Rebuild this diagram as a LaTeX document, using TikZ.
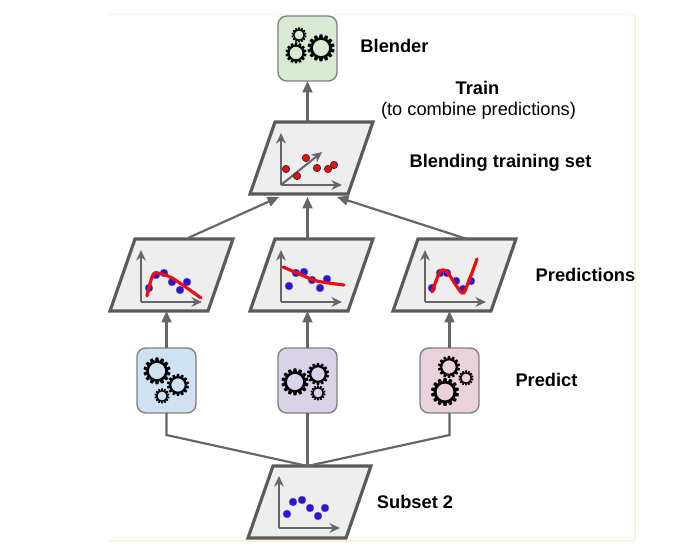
\documentclass[tikz,border=0pt]{standalone}
\usepackage{fontspec}
\setmainfont{Liberation Sans}
\usetikzlibrary{arrows.meta}
\definecolor{linegray}{HTML}{666666}
\definecolor{framegray}{HTML}{5A5A5A}
\definecolor{setgray}{HTML}{EEEEEE}
\definecolor{edgeorange}{HTML}{FDF1DE}
\definecolor{boxgreen}{HTML}{D9EAD3}
\definecolor{boxblue}{HTML}{CFE2F3}
\definecolor{boxpurple}{HTML}{D9D2E9}
\definecolor{boxpink}{HTML}{EAD1DC}
\definecolor{dotblue}{HTML}{2A14E0}
\definecolor{dotred}{HTML}{F00A0A}
\begin{document}
\begin{tikzpicture}[x=0.02cm, y=-0.02cm,
	link/.style={linegray, line width=1.25pt},
	arrow/.style={link, -{Triangle[length=6.5pt, width=5.6pt]}},
	axis/.style={linegray, line width=1.15pt, -{Stealth[length=6pt, width=5.5pt]}},
	dataset/.style={rectangle, xslant=0.347, transform shape, draw=framegray, fill=setgray, line width=1.8pt, minimum width=1.96cm, minimum height=1.44cm, inner sep=0pt, outer sep=0pt},
	gearbox/.style={draw=gray, line width=0.8pt, rounded corners=5pt, minimum width=1.18cm, minimum height=1.3cm, inner sep=0pt, outer sep=0pt},
	label/.style={font=\fontsize{10.4}{12}\selectfont\bfseries, inner sep=0pt},
	fit curve/.style={dotred, line width=1.8pt, line cap=round},
	pics/gear/.style={code={
		\draw[black, line width=0.105pt*#1] (0,0) circle (0.7*#1);
		\foreach \a in {1,...,14}
		\fill[black, rotate=\a*360/14] (-0.15*#1,0.74*#1) -- (-0.1*#1,#1) -- (0.1*#1,#1) -- (0.15*#1,0.74*#1) -- cycle;
	}},
	pics/axes/.style={code={
		\draw[axis] (0,0) -- (0,-52);
		\draw[axis] (0,0) -- (61,0);
	}},
	bluedot/.style={fill=dotblue, draw=gray, line width=0.2pt},
	reddot/.style={fill=dotred, draw=black!80, line width=0.4pt}]
	\useasboundingbox (0,0) rectangle (691,547);
	% page edges
	\draw[edgeorange, line width=0.6pt] (109,14.5) -- (635,14.5) -- (635,541);
	\draw[edgeorange, line width=1.3pt] (109,541) -- (635,541);
	% gear boxes
	\node[gearbox, fill=boxgreen] (blender) at (307.5,48.5) {};
	\node[gearbox, fill=boxblue] (predict1) at (166.5,380.5) {};
	\node[gearbox, fill=boxpurple] (predict2) at (307.5,380.5) {};
	\node[gearbox, fill=boxpink] (predict3) at (449.5,380.5) {};
	% data sets
	\node[dataset] (blend) at (311.5,158) {};
	\node[dataset] (pred1) at (171.5,275) {};
	\node[dataset] (pred2) at (311.5,275) {};
	\node[dataset] (pred3) at (454.5,275) {};
	\node[dataset] (subset) at (309.5,502) {};
	% connectors
	\coordinate (tipleft) at (279,197);
	\coordinate (tipmid) at (307.5,197);
	\coordinate (tipright) at (337,197);
	\coordinate (kneeleft) at (166.5,435);
	\coordinate (kneeright) at (449.5,435);
	\draw[arrow] (blend.north -| blender) -- (blender.south);
	\draw[arrow] (pred1.north) ++(4,-1) -- (tipleft);
	\draw[arrow] (pred2.north -| blender) -- (tipmid);
	\draw[arrow] (pred3.north) -- (tipright);
	\draw[arrow] (predict1.north) -- (predict1.north |- pred1.south);
	\draw[arrow] (predict2.north) -- (predict2.north |- pred2.south);
	\draw[arrow] (predict3.north) -- (predict3.north |- pred3.south);
	\draw[link] (predict1.south) -- (kneeleft) -- (subset.north -| blender);
	\draw[link] (predict2.south) -- (subset.north -| blender);
	\draw[link] (predict3.south) -- (kneeright) -- (subset.north -| blender);
	% gears
	\pic at (299,35) {gear=7.5};
	\pic at (296,53) {gear=10.5};
	\pic at (321,48) {gear=13.5};
	\pic at (157,371) {gear=13.5};
	\pic at (178,385) {gear=11};
	\pic at (162,396) {gear=7.5};
	\pic at (295,382) {gear=13.5};
	\pic at (318,374) {gear=11};
	\pic at (318,393) {gear=7.5};
	\pic at (445,392) {gear=14};
	\pic at (449,367) {gear=11};
	\pic at (466,378) {gear=7.5};
	% plots
	\pic at (281,185) {axes};
	\draw[axis] (281,185) -- (322,152);
	\foreach \x/\y in {286/169, 297/176, 306/158, 317/168, 328/169, 334/165}
	\draw[reddot] (\x,\y) circle (3.7);
	\pic at (141,302) {axes};
	\foreach \x/\y in {149/288, 156/275, 164/273, 172/282, 180/290, 187/282}
	\draw[bluedot] (\x,\y) circle (4);
	\draw[fit curve] plot[smooth] coordinates {(147,296) (152,277) (157,273) (172,278) (201,298)};
	\pic at (281,302) {axes};
	\foreach \x/\y in {289/286, 296/273, 304/272, 312/280, 320/288, 327/279}
	\draw[bluedot] (\x,\y) circle (4);
	\draw[fit curve] plot[smooth] coordinates {(283,267) (297,273) (317,281) (344,285)};
	\pic at (425,302) {axes};
	\foreach \x/\y in {432/288, 440/273, 447/273, 456/281, 463/289, 471/281}
	\draw[bluedot] (\x,\y) circle (4);
	\draw[fit curve] plot[smooth] coordinates {(432,292) (440,272) (447,272) (462,293) (468,283) (477,259)};
	\pic at (279,528) {axes};
	\foreach \x/\y in {287/514, 293/502, 302/500, 310/508, 318/516, 325/508}
	\draw[bluedot] (\x,\y) circle (4);
	% labels
	\node[label] (blenderlabel) at (394.5,46) {Blender};
	\node[label] (trainlabel) at (477.5,88) {Train};
	\node[label, font=\fontsize{10.4}{12}\selectfont] (combinelabel) at (478.5,110.5) {(to combine predictions)};
	\node[label] (blendinglabel) at (500.5,162.5) {Blending training set};
	\node[label] (predictionslabel) at (585.5,275) {Predictions};
	\node[label] (predictlabel) at (546.5,380) {Predict};
	\node[label] (subsetlabel) at (415,502) {Subset 2};
\end{tikzpicture}
\end{document}
